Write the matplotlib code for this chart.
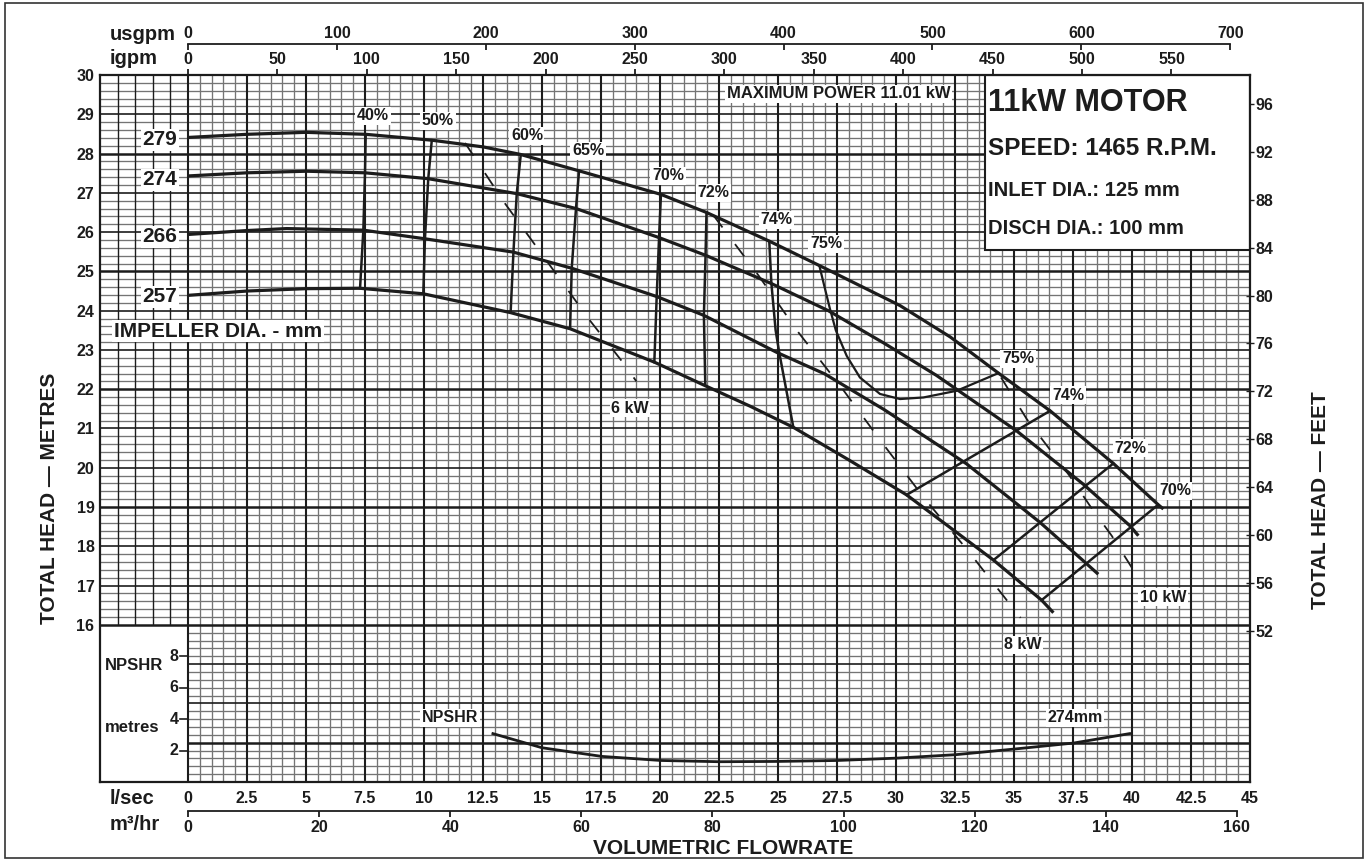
import numpy as np
import matplotlib
matplotlib.use("Agg")
import matplotlib.pyplot as plt
from matplotlib.patches import Rectangle

# ---------------- data ----------------
# impeller head curves: flow (l/s) vs total head (m)
q_279 = [0, 2.5, 5.0, 7.53, 10.33, 12.5, 14.07, 16.57, 20.04, 21.97, 24.63, 26.75, 30.17, 32.3, 34.34, 36.53, 39.21, 41.11, 41.33]
h_279 = [28.41, 28.49, 28.54, 28.49, 28.34, 28.17, 27.98, 27.56, 26.96, 26.50, 25.77, 25.15, 24.13, 23.33, 22.41, 21.45, 20.11, 19.06, 18.95]
q_274 = [0, 2.5, 5.03, 7.5, 10.18, 13.93, 16.44, 19.96, 21.93, 24.72, 27.13, 29.5, 31.72, 35.11, 37.94, 39.92, 40.27]
h_274 = [27.43, 27.51, 27.55, 27.51, 27.36, 26.98, 26.60, 25.86, 25.41, 24.69, 24.00, 23.17, 22.35, 20.94, 19.58, 18.52, 18.27]
q_266 = [0, 2.5, 4.18, 7.43, 10.04, 13.79, 16.26, 19.86, 21.86, 24.94, 26.98, 29.5, 32.99, 36.1, 37.94, 38.57]
h_266 = [25.94, 26.04, 26.09, 26.05, 25.83, 25.49, 25.08, 24.36, 23.88, 22.94, 22.39, 21.48, 20.1, 18.61, 17.63, 17.29]
q_257 = [0, 2.5, 5.0, 7.29, 9.97, 13.67, 16.19, 19.76, 21.95, 23.81, 25.65, 28.0, 30.45, 34.13, 36.17, 36.67]
h_257 = [24.39, 24.50, 24.56, 24.57, 24.43, 23.95, 23.54, 22.69, 22.08, 21.57, 21.03, 20.2, 19.31, 17.65, 16.63, 16.31]
impeller_labels = ["279", "274", "266", "257"]

# iso-efficiency lines (left branch)
eff40_q = [7.53, 7.50, 7.43, 7.29];      eff40_h = [28.49, 27.51, 26.05, 24.57]
eff50_q = [10.33, 10.18, 10.04, 9.97];   eff50_h = [28.34, 27.36, 25.83, 24.43]
eff60_q = [14.10, 13.93, 13.79, 13.67];  eff60_h = [27.97, 26.98, 25.49, 23.95]
eff65_q = [16.57, 16.44, 16.26, 16.19];  eff65_h = [27.56, 26.60, 25.08, 23.54]
eff70_q = [20.04, 19.96, 19.86, 19.76];  eff70_h = [26.96, 25.86, 24.36, 22.69]
eff72_q = [21.97, 21.93, 21.86, 21.92];  eff72_h = [26.50, 25.41, 23.88, 22.09]
eff74_q = [24.63, 24.72, 24.90, 25.05, 25.65]; eff74_h = [25.77, 24.69, 23.50, 22.94, 21.03]
# 75 % loop
eff75_q = [26.75, 26.99, 27.2, 27.45, 27.91, 28.47, 29.32, 30.17, 31.16, 32.57, 34.34]
eff75_h = [25.15, 24.56, 24.05, 23.5, 22.85, 22.3, 21.88, 21.75, 21.79, 21.96, 22.41]
# right branch
eff74r_q = [36.53, 30.45]; eff74r_h = [21.45, 19.31]
eff72r_q = [39.21, 34.13]; eff72r_h = [20.11, 17.65]
eff70r_q = [41.11, 36.17]; eff70r_h = [19.06, 16.63]

# power lines (dashed)
pw6_q = [11.74, 13.43, 15.34, 17.03, 18.43, 19.0]
pw6_h = [28.27, 26.73, 25.15, 23.75, 22.68, 22.2]
pw8_q = [22.26, 24.17, 25.86, 27.63, 29.46, 31.23, 33.06, 35.28]
pw8_h = [26.43, 24.9, 23.45, 22.09, 20.6, 19.2, 17.88, 16.18]
pw10_q = [34.45, 35.54, 36.45, 37.35, 38.22, 39.14, 39.99, 40.45]
pw10_h = [22.3, 21.24, 20.52, 19.8, 19.03, 18.27, 17.46, 17.1]

# NPSHR curve (m)
npsh_q = [12.92, 15.0, 17.53, 20.03, 22.52, 25.04, 27.53, 30.03, 32.54, 35.03, 37.53, 39.9]
npsh_m = [3.08, 2.18, 1.63, 1.37, 1.29, 1.31, 1.37, 1.52, 1.74, 2.10, 2.48, 3.08]

# axis ticks
lps_ticks = [0, 2.5, 5, 7.5, 10, 12.5, 15, 17.5, 20, 22.5, 25, 27.5, 30, 32.5, 35, 37.5, 40, 42.5, 45]
lps_labels = ["0", "2.5", "5", "7.5", "10", "12.5", "15", "17.5", "20", "22.5", "25", "27.5",
              "30", "32.5", "35", "37.5", "40", "42.5", "45"]
head_ticks = list(range(16, 31))
feet_ticks = list(range(52, 97, 4))
usgpm_ticks = list(range(0, 701, 100))
igpm_ticks = list(range(0, 551, 50))
m3h_ticks = list(range(0, 161, 20))
npsh_ticks = [2, 4, 6, 8]

# ---------------- style ----------------
plt.rcParams['font.family'] = ['Liberation Sans', 'DejaVu Sans']
plt.rcParams['font.weight'] = 'bold'
plt.rcParams['lines.scale_dashes'] = False
INK = '#1c1c1c'
GREY = '#747474'
W, H = 1367, 860

fig = plt.figure(figsize=(W / 100, H / 100), dpi=100)
fig.patch.set_facecolor('white')
L, Rr, T, B = 100, 1250, 75, 782
ax = fig.add_axes([L / W, 1 - B / H, (Rr - L) / W, (B - T) / H])
xmin = -88 / 23.6
ax.set_xlim(xmin, 45)
ax.set_ylim(12, 30)


def fx(px):
    return px / W


def fy(py):
    return 1 - py / H


def npsh_to_head(n):
    return 12 + 0.4 * np.asarray(n, dtype=float)


# ---------------- grid ----------------
xs = np.round(np.arange(0, 45.01, 0.5), 2)
minor_x = [x for x in xs if abs(x / 2.5 - round(x / 2.5)) > 1e-6]
ax.vlines(minor_x, 12, 30, color=GREY, lw=0.95, zorder=1)
ys = np.round(np.arange(12.2, 30, 0.2), 1)
minor_y = ys[np.abs(ys - np.round(ys)) > 1e-6]
ax.hlines(minor_y[minor_y > 16], xmin, 45, color=GREY, lw=0.95, zorder=1)
ax.hlines(minor_y[minor_y < 16], 0, 45, color=GREY, lw=0.95, zorder=1)
ax.vlines(xmin + np.arange(1, 5) * (-xmin / 5), 16, 30, color=INK, lw=1.0, zorder=1.2)
for y in range(13, 30):
    lw = 1.8 if (y - 13) % 3 == 0 else 1.2
    x0 = xmin if y >= 16 else 0
    ax.hlines(y, x0, 45, color=INK, lw=lw, zorder=1.5)
ax.vlines(np.arange(0, 45, 2.5), 12, 30, color=INK, lw=1.5, zorder=1.5)

for s in ax.spines.values():
    s.set_linewidth(1.6)
    s.set_color(INK)
    s.set_zorder(6)

# info box
ax.add_patch(Rectangle((33.77, 25.545), 45 - 33.77, 30 - 25.545, facecolor='white',
                       edgecolor=INK, lw=1.5, zorder=3))

# ---------------- curves ----------------
for q, h in [(q_279, h_279), (q_274, h_274), (q_266, h_266), (q_257, h_257)]:
    ax.plot(q, h, color=INK, lw=2.3, zorder=4, solid_capstyle='butt')

for q, h in [(eff40_q, eff40_h), (eff50_q, eff50_h), (eff60_q, eff60_h), (eff65_q, eff65_h),
             (eff70_q, eff70_h), (eff72_q, eff72_h), (eff74_q, eff74_h),
             (eff74r_q, eff74r_h), (eff72r_q, eff72r_h), (eff70r_q, eff70r_h)]:
    ax.plot(q, h, color=INK, lw=1.8, zorder=4)
ax.plot(eff75_q, eff75_h, color=INK, lw=1.6, zorder=4)

for q, h in [(pw6_q, pw6_h), (pw8_q, pw8_h), (pw10_q, pw10_h)]:
    ax.plot(q, h, color=INK, lw=1.3, dashes=(11, 15), zorder=4)

ax.plot(npsh_q, npsh_to_head(npsh_m), color=INK, lw=2.0, zorder=4)

# ---------------- ticks / axes ----------------
ax.set_yticks(head_ticks)
ax.set_yticklabels([str(v) for v in head_ticks])
ax.set_xticks(lps_ticks)
ax.set_xticklabels(lps_labels)
ax.tick_params(axis='both', length=0, labelsize=11.5, colors=INK)
ax.tick_params(axis='y', pad=4)
ax.tick_params(axis='x', pad=6.5)

sec_ft = ax.secondary_yaxis('right', functions=(lambda m: m / 0.3048, lambda f: f * 0.3048))
sec_ft.set_yticks(feet_ticks)
sec_ft.tick_params(direction='inout', length=6, width=1.0, pad=1.0, labelsize=11.5, colors=INK)
sec_ft.spines['right'].set_visible(False)

LPS_IG = 0.0757682
LPS_US = 0.0630902
sec_ig = ax.secondary_xaxis('top', functions=(lambda q: q / LPS_IG, lambda g: g * LPS_IG))
sec_ig.set_xticks(igpm_ticks)
sec_ig.tick_params(direction='out', length=4.5, width=1.3, pad=1.5, labelsize=11.5, colors=INK)
sec_ig.spines['top'].set_visible(False)

sec_us = ax.secondary_xaxis((B - 44) / (B - T), functions=(lambda q: q / LPS_US, lambda g: g * LPS_US))
sec_us.set_xticks(usgpm_ticks)
sec_us.tick_params(direction='in', length=4.5, width=1.3, pad=2.5, labelsize=11.5, colors=INK)
sec_us.spines['top'].set_bounds(0, 700)
sec_us.spines['top'].set_linewidth(1.3)
sec_us.spines['top'].set_color(INK)

sec_m3 = ax.secondary_xaxis((B - 811) / (B - T), functions=(lambda q: q * 3.6, lambda m: m / 3.6))
sec_m3.set_xticks(m3h_ticks)
sec_m3.tick_params(direction='out', length=4, width=1.3, pad=2.5, labelsize=11.5, colors=INK)
sec_m3.spines['bottom'].set_bounds(0, 160)
sec_m3.spines['bottom'].set_linewidth(1.3)
sec_m3.spines['bottom'].set_color(INK)

# NPSHR ticks
for n in npsh_ticks:
    yy = float(npsh_to_head(n))
    ax.plot([-0.34, 0], [yy, yy], color=INK, lw=1.2, zorder=5)
    ax.text(-0.4, yy, str(n), ha='right', va='center', fontsize=11.5, color=INK, zorder=5)

# ---------------- labels ----------------
box = dict(facecolor='white', edgecolor='none', pad=1.2)

for lab, yy in zip(impeller_labels, [28.35, 27.33, 25.88, 24.35]):
    ax.text(-1.19, yy, lab, ha='center', va='center', fontsize=15, color=INK, bbox=box, zorder=5)
ax.text(1.27, 23.48, "IMPELLER DIA. - mm", ha='center', va='center', fontsize=15, color=INK,
        bbox=box, zorder=5)

eff_text = [("40%", 7.84, 28.96), ("50%", 10.59, 28.83), ("60%", 14.36, 28.45), ("65%", 16.95, 28.07),
            ("70%", 20.34, 27.43), ("72%", 22.25, 27.0), ("74%", 24.92, 26.31), ("75%", 27.03, 25.70),
            ("75%", 35.17, 22.77), ("74%", 37.29, 21.85), ("72%", 39.92, 20.50), ("70%", 41.82, 19.41),
            ("10 kW", 41.31, 16.71), ("8 kW", 35.38, 15.49), ("6 kW", 18.73, 21.52)]
for lab, xq, yh in eff_text:
    ax.text(xq, yh, lab, ha='center', va='center', fontsize=11.5, color=INK, bbox=box, zorder=5)

ax.text(27.58, 29.52, "MAXIMUM POWER 11.01 kW", ha='center', va='center', fontsize=12,
        color=INK, bbox=box, zorder=5)
ax.text(11.1, 13.63, "NPSHR", ha='center', va='center', fontsize=11.5, color=INK, bbox=box, zorder=5)
ax.text(37.58, 13.63, "274mm", ha='center', va='center', fontsize=11.5, color=INK, bbox=box, zorder=5)

ax.text(33.9, 29.29, "11kW MOTOR", ha='left', va='center', fontsize=22, color=INK, zorder=5)
ax.text(33.9, 28.14, "SPEED: 1465 R.P.M.", ha='left', va='center', fontsize=17.5, color=INK, zorder=5)
ax.text(33.9, 27.07, "INLET DIA.: 125 mm", ha='left', va='center', fontsize=14.5, color=INK, zorder=5)
ax.text(33.9, 26.08, "DISCH DIA.: 100 mm", ha='left', va='center', fontsize=14.5, color=INK, zorder=5)

fig.text(fx(105), fy(666), "NPSHR", ha='left', va='center', fontsize=12, color=INK)
fig.text(fx(105), fy(728), "metres", ha='left', va='center', fontsize=12, color=INK)

fig.text(fx(110), fy(34), "usgpm", ha='left', va='center', fontsize=14.5, color=INK)
fig.text(fx(110), fy(59), "igpm", ha='left', va='center', fontsize=14.5, color=INK)
fig.text(fx(110), fy(799), "l/sec", ha='left', va='center', fontsize=14.5, color=INK)
fig.text(fx(110), fy(825), "m³/hr", ha='left', va='center', fontsize=14.5, color=INK)

fig.text(fx(50), fy(498), "TOTAL HEAD — METRES", rotation=90, ha='center', va='center',
         fontsize=15, color=INK)
fig.text(fx(1320), fy(500), "TOTAL HEAD — FEET", rotation=90, ha='center', va='center',
         fontsize=15, color=INK)
fig.text(fx(723), fy(848), "VOLUMETRIC FLOWRATE", ha='center', va='center', fontsize=15, color=INK)

fig.patches.append(Rectangle((fx(5), fy(858)), fx(1363) - fx(5), fy(3) - fy(858),
                             transform=fig.transFigure, fill=False, edgecolor='#333333', lw=1.2))

fig.savefig("out.png", dpi=100, facecolor='white')
